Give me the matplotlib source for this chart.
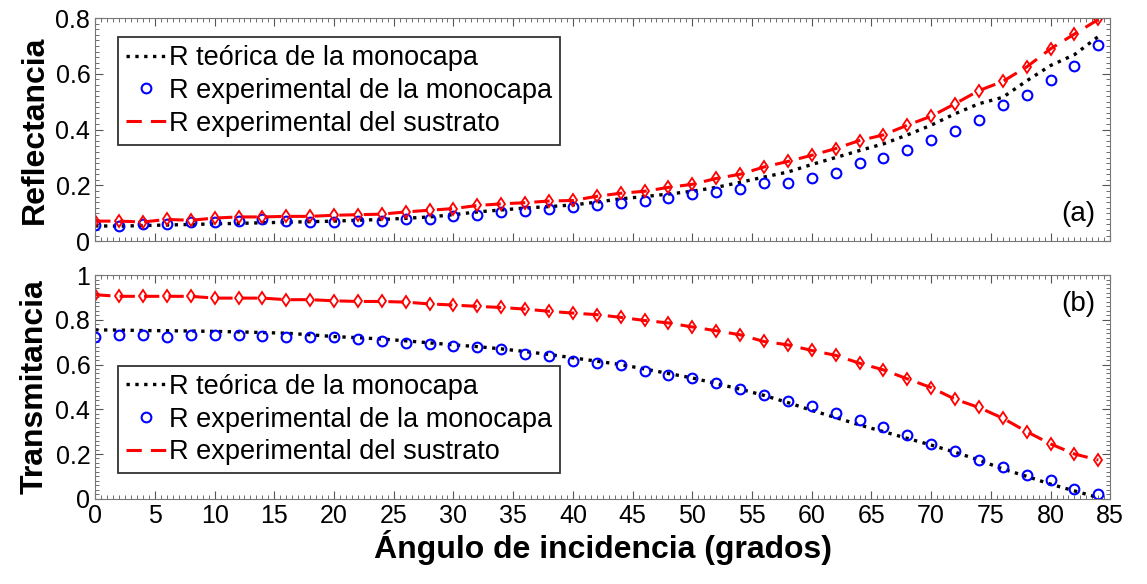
import numpy as np
import matplotlib
matplotlib.use("Agg")
import matplotlib.pyplot as plt
from matplotlib.ticker import MultipleLocator

plt.rcParams['font.family'] = ['Liberation Sans', 'DejaVu Sans']

angulo = list(range(0, 86, 2))

# (a) reflectancia
R_teo = [0.055, 0.054, 0.056, 0.058, 0.060, 0.062, 0.064, 0.066, 0.068, 0.070,
         0.072, 0.075, 0.078, 0.082, 0.087, 0.095, 0.105, 0.112, 0.119, 0.124,
         0.130, 0.140, 0.152, 0.160, 0.169, 0.179, 0.193, 0.211, 0.230, 0.248,
         0.275, 0.300, 0.325, 0.349, 0.381, 0.416, 0.457, 0.493, 0.516, 0.575,
         0.630, 0.669, 0.734]
R_exp = [0.057, 0.055, 0.061, 0.063, 0.069, 0.069, 0.072, 0.078, 0.072, 0.069,
         0.069, 0.072, 0.072, 0.081, 0.081, 0.091, 0.093, 0.105, 0.109, 0.115,
         0.121, 0.128, 0.138, 0.144, 0.155, 0.169, 0.175, 0.187, 0.208, 0.207,
         0.228, 0.246, 0.279, 0.297, 0.328, 0.363, 0.395, 0.436, 0.487, 0.526,
         0.578, 0.630, 0.704]
R_sus = [0.072, 0.072, 0.069, 0.078, 0.075, 0.083, 0.087, 0.087, 0.089, 0.089,
         0.093, 0.095, 0.097, 0.105, 0.111, 0.117, 0.128, 0.134, 0.138, 0.144,
         0.146, 0.161, 0.172, 0.179, 0.193, 0.204, 0.225, 0.240, 0.266, 0.286,
         0.308, 0.332, 0.361, 0.381, 0.416, 0.448, 0.493, 0.540, 0.573, 0.625,
         0.690, 0.743, 0.795]

# (b) transmitancia
T_teo = [0.755, 0.754, 0.752, 0.751, 0.750, 0.748, 0.746, 0.743, 0.740, 0.733,
         0.725, 0.720, 0.714, 0.706, 0.697, 0.688, 0.680, 0.670, 0.658, 0.645,
         0.630, 0.615, 0.600, 0.580, 0.560, 0.540, 0.515, 0.490, 0.462, 0.430,
         0.395, 0.363, 0.330, 0.300, 0.270, 0.240, 0.208, 0.173, 0.133, 0.100,
         0.065, 0.035, 0.005]
T_exp = [0.725, 0.733, 0.733, 0.725, 0.733, 0.730, 0.733, 0.729, 0.725, 0.725,
         0.721, 0.715, 0.706, 0.696, 0.692, 0.684, 0.678, 0.670, 0.649, 0.639,
         0.617, 0.609, 0.596, 0.572, 0.554, 0.539, 0.517, 0.491, 0.464, 0.436,
         0.415, 0.385, 0.352, 0.320, 0.285, 0.245, 0.214, 0.173, 0.143, 0.106,
         0.082, 0.043, 0.020]
T_sus = [0.912, 0.905, 0.905, 0.905, 0.905, 0.897, 0.897, 0.897, 0.890, 0.890,
         0.885, 0.882, 0.882, 0.879, 0.871, 0.866, 0.860, 0.855, 0.848, 0.838,
         0.830, 0.823, 0.811, 0.797, 0.786, 0.768, 0.751, 0.733, 0.703, 0.688,
         0.663, 0.641, 0.606, 0.576, 0.536, 0.497, 0.445, 0.408, 0.360, 0.300,
         0.245, 0.200, 0.173]

etiquetas = ['R teórica de la monocapa', 'R experimental de la monocapa',
             'R experimental del sustrato']

fig = plt.figure(figsize=(11.47, 5.84), dpi=100)
ax1 = fig.add_axes([0.083, 0.587, 0.885, 0.382])
ax2 = fig.add_axes([0.083, 0.146, 0.885, 0.383])


def panel(ax, teo, exp, sus, ymax, letra, letra_y, leg_anchor):
    ax.plot(angulo, teo, ':', color='black', lw=2.4, label=etiquetas[0])
    ax.plot(angulo, exp, 'o', mfc='none', mec='blue', mew=1.5, ms=7,
            label=etiquetas[1])
    ax.plot(angulo, sus, '--', color='red', lw=2.2, dashes=(5, 3),
            label=etiquetas[2])
    ax.plot(angulo, sus, 'd', mfc='none', mec='red', mew=1.3, ms=6.5)
    ax.set_xlim(0, 85)
    ax.set_ylim(0, ymax)
    ax.xaxis.set_major_locator(MultipleLocator(5))
    ax.xaxis.set_minor_locator(MultipleLocator(0.5))
    ax.yaxis.set_major_locator(MultipleLocator(0.2))
    ax.yaxis.set_minor_locator(MultipleLocator(0.02))
    ax.tick_params(which='both', direction='in', top=True, right=True,
                   labelsize=18, color='#555555')
    ax.tick_params(which='major', length=6)
    ax.tick_params(which='minor', length=3)
    ax.yaxis.set_major_formatter(plt.FuncFormatter(lambda v, p: f'{v:g}'))
    for s in ax.spines.values():
        s.set_color('#777777')
    ax.text(0.985, letra_y, letra, transform=ax.transAxes, ha='right',
            va='center', fontsize=20)
    leg = ax.legend(loc='upper left', bbox_to_anchor=leg_anchor, fontsize=19.5,
                    handlelength=1.5, handletextpad=0.1, borderpad=0.3,
                    labelspacing=0.25, borderaxespad=0, fancybox=False,
                    edgecolor='#333333', framealpha=1)
    leg.get_frame().set_linewidth(1.3)


panel(ax1, R_teo, R_exp, R_sus, 0.8, '(a)', 0.12, (0.022, 0.915))
panel(ax2, T_teo, T_exp, T_sus, 1.0, '(b)', 0.87, (0.022, 0.595))

ax1.tick_params(labelbottom=False)

ax1.set_ylabel('Reflectancia', fontsize=23, fontweight='bold', labelpad=4)
ax2.set_ylabel('Transmitancia', fontsize=23, fontweight='bold', labelpad=4)
ax2.set_xlabel('Ángulo de incidencia (grados)', fontsize=23, fontweight='bold',
               labelpad=2)
fig.align_ylabels([ax1, ax2])

fig.savefig('out.png', dpi=100)
